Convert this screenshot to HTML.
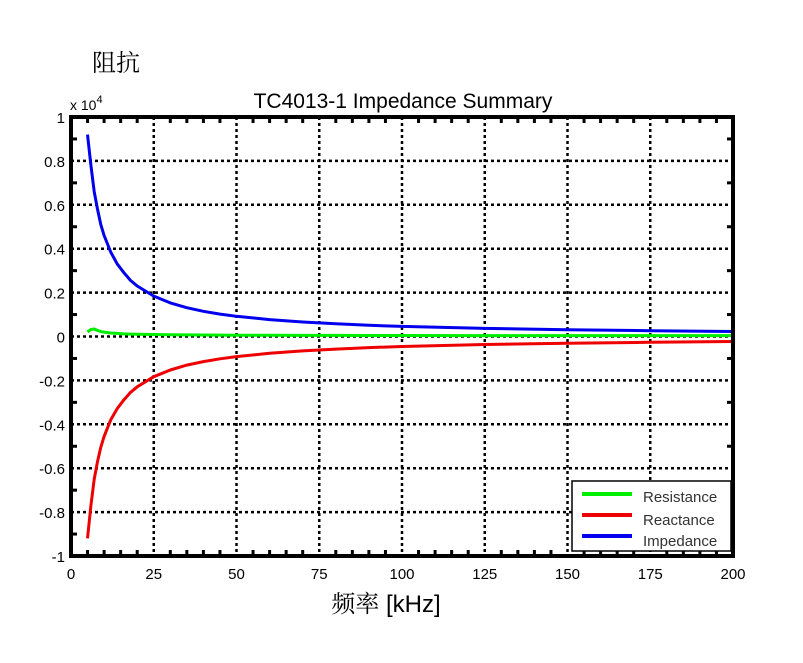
<!DOCTYPE html>
<html><head><meta charset="utf-8"><style>
body{margin:0;background:#fff;}
svg text{font-family:"Liberation Sans","Noto Sans CJK SC",sans-serif;}
svg text.cjk, svg tspan.cjk{font-family:"Noto Serif CJK SC",serif;}
</style></head><body>
<svg width="803" height="658" viewBox="0 0 803 658">
<text class="cjk" x="92" y="71" font-size="24">阻抗</text>
<text x="403" y="108" font-size="21" text-anchor="middle">TC4013-1 Impedance Summary</text>
<text x="70" y="110" font-size="14">x 10<tspan dy="-7" font-size="11">4</tspan></text>
<g id="grid"></g>
<g id="ticks"></g>
<g id="series"></g>
<rect x="71" y="117" width="662" height="439" fill="none" stroke="#000" stroke-width="4"/>
<text x="386" y="612" font-size="24" text-anchor="middle"><tspan class="cjk">频率</tspan> [kHz]</text>
<g>
<rect x="572" y="481" width="159" height="70" fill="#fff" stroke="#000" stroke-width="1.5"/>
<line x1="582" y1="494" x2="632" y2="494" stroke="#00ee00" stroke-width="4"/>
<text x="643" y="502" font-size="15" fill="#333">Resistance</text>
<line x1="582" y1="515" x2="632" y2="515" stroke="#ee0000" stroke-width="4"/>
<text x="643" y="525" font-size="15" fill="#333">Reactance</text>
<line x1="582" y1="536" x2="632" y2="536" stroke="#0000ee" stroke-width="4"/>
<text x="643" y="546" font-size="15" fill="#333">Impedance</text>
</g>
</svg>
<script>
const freqs=[5,6,7,8,9,10,12,14,16,18,20,25,30,35,40,45,50,60,70,80,90,100,125,150,175,200];
const impedance=[9200,7800,6600,5800,5100,4600,3850,3300,2900,2550,2300,1840,1530,1310,1150,1020,920,770,660,580,510,460,370,310,265,230];
const reactance=[-9200,-7700,-6500,-5700,-5050,-4550,-3800,-3280,-2880,-2540,-2290,-1830,-1525,-1305,-1145,-1015,-915,-765,-655,-575,-505,-455,-365,-305,-262,-228];
const resistance=[200,320,340,280,230,200,160,140,120,110,100,90,80,75,70,65,60,55,50,50,45,45,40,40,40,40];
const xTicks=[0,25,50,75,100,125,150,175,200];
const yTicks=[-1,-0.8,-0.6,-0.4,-0.2,0,0.2,0.4,0.6,0.8,1];
const X0=71,X1=733,Y0=556,Y1=117;
const sx=v=>X0+v/200*(X1-X0);
const sy=v=>Y0-(v/10000+1)/2*(Y0-Y1);
const NS='http://www.w3.org/2000/svg';
function mk(t,a,p){const e=document.createElementNS(NS,t);for(const k in a)e.setAttribute(k,a[k]);p.appendChild(e);return e;}
const grid=document.getElementById('grid'),ticks=document.getElementById('ticks'),series=document.getElementById('series');
xTicks.forEach(t=>{const x=sx(t);
 if(t>0&&t<200){const l=mk('line',{x1:x,y1:Y1,x2:x,y2:Y0,stroke:'#000','stroke-width':2.5,'stroke-dasharray':'3,3'},grid);
 
 }
 const tx=mk('text',{x:x,y:579,'font-size':15,'text-anchor':'middle'},ticks);tx.textContent=t;
 
 
});
for(let m=5;m<200;m+=5){if(m%25===0)continue;const x=sx(m);
 mk('line',{x1:x,y1:Y1,x2:x,y2:Y1+6,stroke:'#000','stroke-width':3},ticks);
 mk('line',{x1:x,y1:Y0,x2:x,y2:Y0-6,stroke:'#000','stroke-width':3},ticks);}
yTicks.forEach((t,i)=>{const y=sy(t*10000);
 if(t>-1&&t<1){const l=mk('line',{x1:X0,y1:y,x2:X1,y2:y,stroke:'#000','stroke-width':2.5,'stroke-dasharray':'3,3'},grid);
 
 }
 const tx=mk('text',{x:65,y:y+6,'font-size':15,'text-anchor':'end'},ticks);tx.textContent=String(t);
 
 
 if(i<yTicks.length-1){const ym=sy((t+0.1)*10000);
  mk('line',{x1:X0,y1:ym,x2:X0+6,y2:ym,stroke:'#000','stroke-width':3},ticks);
  mk('line',{x1:X1,y1:ym,x2:X1-6,y2:ym,stroke:'#000','stroke-width':3},ticks);}
});
function line(vals,col,name){const d=vals.map((v,i)=>(i?'L':'M')+sx(freqs[i]).toFixed(1)+','+sy(v).toFixed(1)).join('');
 const p=mk('path',{d:d,fill:'none',stroke:col,'stroke-width':3,'stroke-linejoin':'round'},series);
 
 }
line(resistance,'#00ee00','resistance-line');
line(reactance,'#ee0000','reactance-line');
line(impedance,'#0000ee','impedance-line');
</script>
</body></html>
